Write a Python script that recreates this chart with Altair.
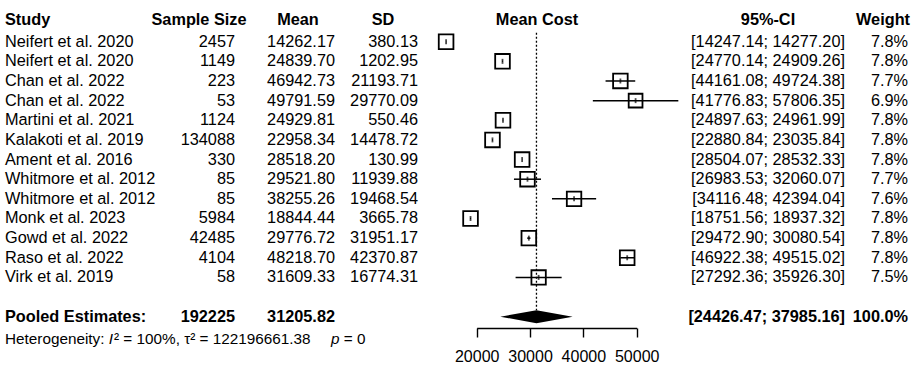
import altair as alt
import pandas as pd

# ---- study-level data -------------------------------------------------------
studies = [
    "Neifert et al. 2020", "Neifert et al. 2020", "Chan et al. 2022",
    "Chan et al. 2022", "Martini et al. 2021", "Kalakoti et al. 2019",
    "Ament et al. 2016", "Whitmore et al. 2012", "Whitmore et al. 2012",
    "Monk et al. 2023", "Gowd et al. 2022", "Raso et al. 2022",
    "Virk et al. 2019",
]
sample_size = [2457, 1149, 223, 53, 1124, 134088, 330, 85, 85, 5984, 42485, 4104, 58]
mean_cost = [14262.17, 24839.70, 46942.73, 49791.59, 24929.81, 22958.34, 28518.20,
             29521.80, 38255.26, 18844.44, 29776.72, 48218.70, 31609.33]
sd_cost = [380.13, 1202.95, 21193.71, 29770.09, 550.46, 14478.72, 130.99,
           11939.88, 19468.54, 3665.78, 31951.17, 42370.87, 16774.31]
ci_lower = [14247.14, 24770.14, 44161.08, 41776.83, 24897.63, 22880.84, 28504.07,
            26983.53, 34116.48, 18751.56, 29472.90, 46922.38, 27292.36]
ci_upper = [14277.20, 24909.26, 49724.38, 57806.35, 24961.99, 23035.84, 28532.33,
            32060.07, 42394.04, 18937.32, 30080.54, 49515.02, 35926.30]
weight_pct = [7.8, 7.8, 7.7, 6.9, 7.8, 7.8, 7.8, 7.7, 7.6, 7.8, 7.8, 7.8, 7.5]

# ---- pooled (random effects) estimate ---------------------------------------
pooled_n = 192225
pooled_mean = 31205.82
pooled_lower = 24426.47
pooled_upper = 37985.16
pooled_weight = 100.0

het_i2 = "100%"
het_tau2 = "122196661.38"
het_p = "0"

# ---- tables -----------------------------------------------------------------
FONT = "Liberation Sans"
POOLED_ROW = len(studies) + 1

df = pd.DataFrame({
    "study": studies,
    "n": [str(v) for v in sample_size],
    "mean": mean_cost,
    "mean_txt": [f"{v:.2f}" for v in mean_cost],
    "sd_txt": [f"{v:.2f}" for v in sd_cost],
    "lo": ci_lower,
    "hi": ci_upper,
    "ci_txt": [f"[{a:.2f}; {b:.2f}]" for a, b in zip(ci_lower, ci_upper)],
    "w": weight_pct,
    "w_txt": [f"{v:.1f}%" for v in weight_pct],
    "row": list(range(len(studies))),
})

pooled = pd.DataFrame({
    "study": ["Pooled Estimates:"],
    "n": [str(pooled_n)],
    "mean_txt": [f"{pooled_mean:.2f}"],
    "ci_txt": [f"[{pooled_lower:.2f}; {pooled_upper:.2f}]"],
    "w_txt": [f"{pooled_weight:.1f}%"],
    "row": [POOLED_ROW],
})

# diamond outline: left tip, centre (top/bottom), right tip
DH = 0.33
diamond = pd.DataFrame({
    "x": [pooled_lower, pooled_mean, pooled_upper],
    "top": [POOLED_ROW, POOLED_ROW - DH, POOLED_ROW],
    "bot": [POOLED_ROW, POOLED_ROW + DH, POOLED_ROW],
})

refline = pd.DataFrame({"x": [pooled_mean], "top": [-0.45], "bot": [POOLED_ROW - DH]})

# ---- scales -----------------------------------------------------------------
yscale = alt.Scale(domain=[0, POOLED_ROW], range=[41.7, 316.7], nice=False, zero=False)
xscale = alt.Scale(domain=[20000, 50000], range=[476.7, 636.7], nice=False, zero=False)
xaxis = alt.Axis(
    values=[20000, 30000, 40000, 50000], format="d", title=None, grid=False,
    offset=-37, tickSize=9, tickWidth=1.4, domainWidth=1.4,
    domainColor="black", tickColor="black", labelColor="black",
    labelFont=FONT, labelFontSize=16, labelPadding=11, labelFlush=False,
)


def X(field):
    return alt.X(f"{field}:Q", scale=xscale, axis=xaxis)


def Y(field="row"):
    return alt.Y(f"{field}:Q", scale=yscale, axis=None)


def column(data, field, x, align, bold=False, size=16.3):
    return alt.Chart(data).mark_text(
        align=align, baseline="middle", font=FONT, fontSize=size,
        fontWeight="bold" if bold else "normal", color="black",
    ).encode(x=alt.value(x), y=Y(), text=f"{field}:N")


def label(text, x, row, align, bold=False, size=16.3, italic=False):
    return alt.Chart(pd.DataFrame({"row": [row], "t": [text]})).mark_text(
        align=align, baseline="middle", font=FONT, fontSize=size,
        fontWeight="bold" if bold else "normal",
        fontStyle="italic" if italic else "normal", color="black",
    ).encode(x=alt.value(x), y=Y(), text="t:N")


# ---- forest panel -----------------------------------------------------------
ref = alt.Chart(refline).mark_rule(color="black", strokeWidth=1.3, strokeDash=[2, 2]).encode(
    x=X("x"), y=Y("top"), y2="bot"
)
ci = alt.Chart(df).mark_rule(color="black", strokeWidth=1.5).encode(
    x=X("lo"), x2="hi", y=Y()
)
boxes = alt.Chart(df).mark_point(
    shape="square", filled=False, stroke="black", strokeWidth=1.8, opacity=1
).encode(
    x=X("mean"), y=Y(),
    size=alt.Size("w:Q", scale=alt.Scale(domain=[0, 7.8], range=[0, 215]), legend=None),
)
centre = alt.Chart(df).mark_tick(orient="vertical", color="black", size=5, thickness=1.8).encode(
    x=X("mean"), y=Y()
)
dia = alt.Chart(diamond).mark_area(orient="vertical", color="black", opacity=1).encode(
    x=X("x"), y=Y("top"), y2="bot"
)

# ---- text columns -----------------------------------------------------------
HEAD = -1.1
headers = [
    label("Study", 5, HEAD, "left", bold=True),
    label("Sample Size", 199, HEAD, "center", bold=True),
    label("Mean", 298, HEAD, "center", bold=True),
    label("SD", 383, HEAD, "center", bold=True),
    label("Mean Cost", 537, HEAD, "center", bold=True),
    label("95%-CI", 768, HEAD, "center", bold=True),
    label("Weight", 910, HEAD, "right", bold=True),
]

cols = [
    column(df, "study", 5, "left"),
    column(df, "n", 235, "right"),
    column(df, "mean_txt", 335, "right"),
    column(df, "sd_txt", 418, "right"),
    column(df, "ci_txt", 845, "right"),
    column(df, "w_txt", 908, "right"),
    column(pooled, "study", 5, "left", bold=True),
    column(pooled, "n", 235, "right", bold=True),
    column(pooled, "mean_txt", 335, "right", bold=True),
    column(pooled, "ci_txt", 845, "right", bold=True),
    column(pooled, "w_txt", 908, "right", bold=True),
]

# heterogeneity line, built from runs so that I and p can be italic
HET_SIZE = 15.3
HET_ROW = POOLED_ROW + 1.15
ARIAL = {" ": 278, ":": 278, "H": 722, "e": 556, "t": 278, "r": 333, "o": 556,
         "g": 556, "n": 556, "i": 222, "y": 500, "I": 278, "p": 556}


def text_width(s, size):
    return sum(ARIAL.get(c, 556) for c in s) * size / 1000.0


run1 = "Heterogeneity: "
x_i = 5 + text_width(run1, HET_SIZE)
x_rest = x_i + text_width("I", HET_SIZE) + 1
x_p = 331
het = [
    label(run1, 5, HET_ROW, "left", size=HET_SIZE),
    label("I", x_i, HET_ROW, "left", size=HET_SIZE, italic=True),
    label(f"\u00b2 = {het_i2}, \u03c4\u00b2 = {het_tau2}", x_rest, HET_ROW, "left", size=HET_SIZE),
    label("p", x_p, HET_ROW, "left", size=HET_SIZE, italic=True),
    label(f"= {het_p}", x_p + text_width("p ", HET_SIZE), HET_ROW, "left", size=HET_SIZE),
]

chart = alt.layer(
    ref, ci, boxes, centre, dia, *headers, *cols, *het
).properties(
    width=921, height=365, padding=0,
    autosize=alt.AutoSizeParams(type="none"),
).configure_view(stroke=None)

chart.save("out.html", embed_options={"renderer": "svg", "actions": False})
